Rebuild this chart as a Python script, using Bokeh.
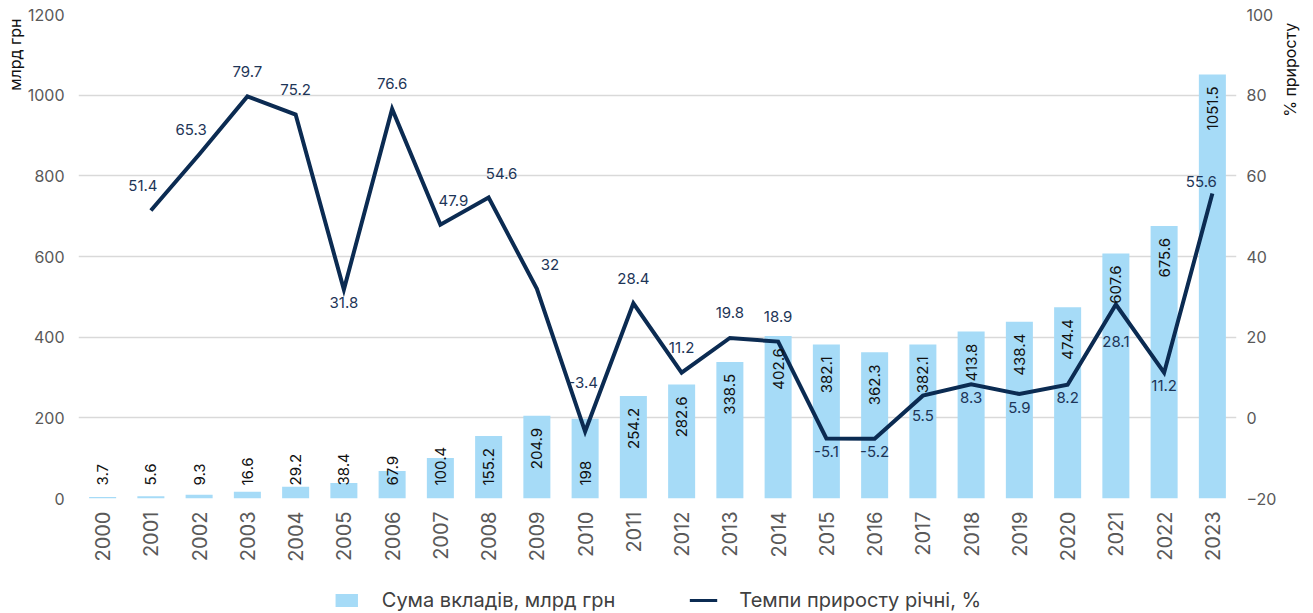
import math
from bokeh.plotting import figure
from bokeh.layouts import column, row
from bokeh.models import (Range1d, LinearAxis, FactorRange, Legend, LegendItem,
                          Title, FixedTicker)
from bokeh.core.properties import value
from bokeh.embed import file_html
from bokeh.resources import INLINE

years = [str(y) for y in range(2000, 2024)]
deposits = [3.7, 5.6, 9.3, 16.6, 29.2, 38.4, 67.9, 100.4, 155.2, 204.9, 198, 254.2,
            282.6, 338.5, 402.6, 382.1, 362.3, 382.1, 413.8, 438.4, 474.4, 607.6,
            675.6, 1051.5]
growth_years = years[1:]
growth = [51.4, 65.3, 79.7, 75.2, 31.8, 76.6, 47.9, 54.6, 32, -3.4, 28.4, 11.2,
          19.8, 18.9, -5.1, -5.2, 5.5, 8.3, 5.9, 8.2, 28.1, 11.2, 55.6]
growth_label_side = ["tl", "tl", "t", "t", "b", "t", "tr", "tr", "tr", "tt", "t", "t",
                     "t", "t", "b", "b", "bm", "b", "b", "b", "bb", "b", "l"]
left_title = "млрд грн"
right_title = "% приросту"
bar_name = "Сума вкладів, млрд грн"
line_name = "Темпи приросту річні, %"

FONT = "Inter"
BAR_COLOR = "#a6dbf7"
LINE_COLOR = "#0b2b52"

MAIN_W, MAIN_H = 1279, 589
p = figure(x_range=FactorRange(*years), y_range=Range1d(0, 1200),
           width=MAIN_W, height=MAIN_H,
           min_border_left=78, min_border_right=MAIN_W - 1243, min_border_top=14,
           min_border_bottom=91,
           output_backend="svg", toolbar_location=None, outline_line_color=None)
p.extra_y_ranges = {"pct": Range1d(-20, 100)}

bars = p.vbar(x=years, top=deposits, width=0.56, color=BAR_COLOR, line_color=None)
line = p.line(x=growth_years, y=growth, y_range_name="pct", line_color=LINE_COLOR,
              line_width=4, line_join="miter")

# bar labels
big = [(y, v) for y, v in zip(years, deposits) if v >= 200]
small = [(y, v) for y, v in zip(years, deposits) if v < 200]
p.text(x=[b[0] for b in big], y=[b[1] for b in big], text=[f"{b[1]:g}" for b in big],
       angle=math.pi / 2, text_align="right", text_baseline="middle", y_offset=12,
       text_font=value(FONT), text_font_size="15px", text_color="#111111")
p.text(x=[s[0] for s in small], y=[0] * len(small), text=[f"{s[1]:g}" for s in small],
       angle=math.pi / 2, text_align="left", text_baseline="middle", y_offset=-13,
       text_font=value(FONT), text_font_size="15px", text_color="#111111")

# line labels
offs = {"t": (0, -25), "tt": (-2, -49), "tl": (-8, -25), "tr": (13, -24), "b": (0, 13),
        "bm": (0, 20), "bb": (0, 37), "l": (-11, -12)}
p.text(x=growth_years, y=growth, text=[f"{g:g}" for g in growth], y_range_name="pct",
       x_offset=[offs[s][0] for s in growth_label_side],
       y_offset=[offs[s][1] for s in growth_label_side],
       text_align="center", text_baseline="middle",
       text_font=value(FONT), text_font_size="15px", text_color="#1d3557")

# axes
p.yaxis.ticker = FixedTicker(ticks=list(range(0, 1201, 200)))
right = LinearAxis(y_range_name="pct", ticker=FixedTicker(ticks=list(range(-20, 101, 20))))
p.add_layout(right, "right")
for ax in p.yaxis:
    ax.axis_line_color = None
    ax.major_tick_line_color = None
    ax.minor_tick_line_color = None
    ax.major_label_text_font = FONT
    ax.major_label_text_font_size = "16px"
    ax.major_label_text_color = "#595959"
    ax.major_label_standoff = 8
right.major_label_standoff = 4
p.xaxis.axis_line_color = None
p.xaxis.major_tick_line_color = None
p.xaxis.major_label_orientation = math.pi / 2
p.xaxis.major_label_text_font = FONT
p.xaxis.major_label_text_font_size = "20px"
p.xaxis.major_label_text_color = "#595959"
p.xaxis.major_label_standoff = 7
p.xgrid.grid_line_color = None
p.ygrid.grid_line_color = "#d9d9d9"
p.ygrid.grid_line_width = 1.5

p.add_layout(Title(text=left_title, align="right", text_font=FONT, text_font_size="16px",
                   text_font_style="normal", text_color="#111111", standoff=0, offset=4), "left")

# right-hand axis title, in a narrow strip figure so it can read bottom-to-top
RW = 1313 - MAIN_W
rfig = figure(width=RW, height=MAIN_H, x_range=Range1d(0, RW), y_range=Range1d(0, MAIN_H),
              min_border=0, x_axis_location=None, y_axis_location=None,
              output_backend="svg", toolbar_location=None, outline_line_color=None)
rfig.grid.visible = False
rfig.text(x=[1289 - MAIN_W], y=[MAIN_H - 10], text=[right_title], angle=math.pi / 2,
          text_align="right", text_baseline="middle",
          text_font=value(FONT), text_font_size="16px", text_color="#111111")

# legend strip (sample glyphs lie outside its visible range)
LH = 22
lfig = figure(width=1313, height=LH, x_range=Range1d(0, 1), y_range=Range1d(0, 1),
              min_border=0, x_axis_location=None, y_axis_location=None,
              output_backend="svg", toolbar_location=None, outline_line_color=None)
lfig.grid.visible = False
lb = lfig.vbar(x=[5], top=[5], bottom=[4], width=0.5, color=BAR_COLOR, line_color=None)
ll = lfig.line(x=[5, 6], y=[5, 5], line_color=LINE_COLOR, line_width=3)
legend = Legend(items=[LegendItem(label=bar_name, renderers=[lb]),
                       LegendItem(label=line_name, renderers=[ll])],
                orientation="horizontal", location="center",
                label_text_font=FONT, label_text_font_size="20px", label_text_color="#404040",
                glyph_width=28, glyph_height=16, label_standoff=22, spacing=74,
                padding=0, margin=0, border_line_color=None, background_fill_alpha=0)
lfig.add_layout(legend, "center")

layout = column(row(p, rfig, spacing=0), lfig, spacing=0)
open("out.html", "w").write(file_html(layout, INLINE))
